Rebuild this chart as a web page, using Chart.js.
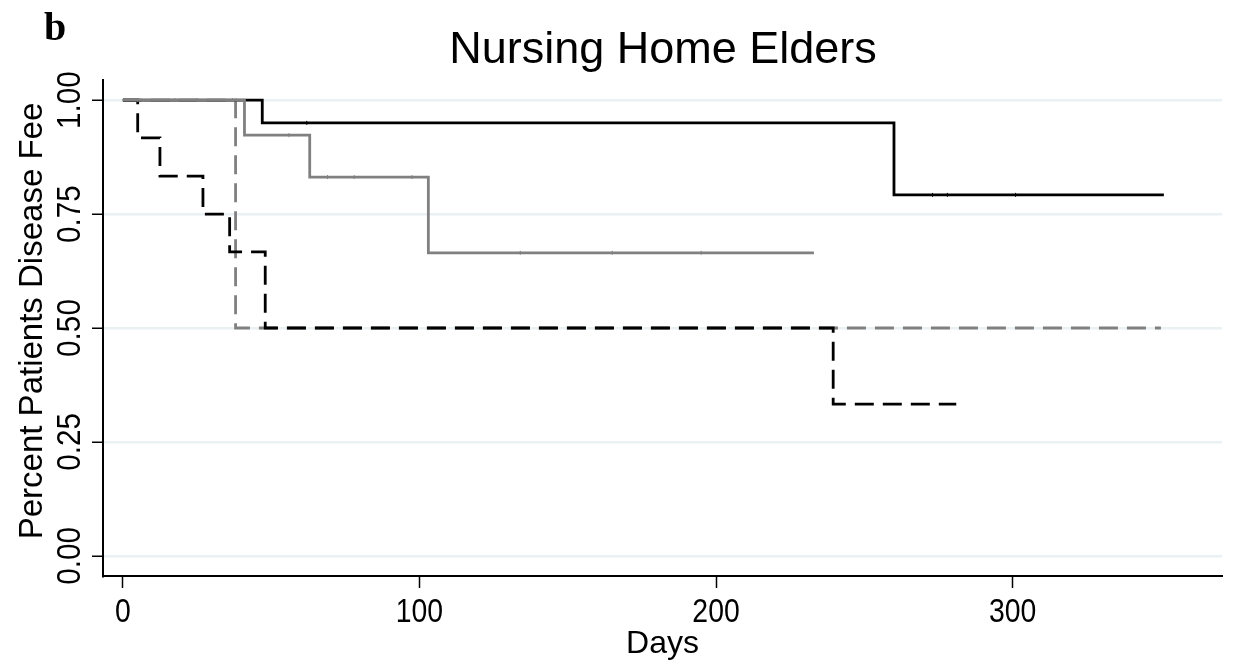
<!DOCTYPE html>
<html>
<head>
<meta charset="utf-8">
<script src="https://cdn.jsdelivr.net/npm/chart.js@4.4.1/dist/chart.umd.min.js"></script>
<style>
  html, body { margin: 0; padding: 0; background: #ffffff; }
  #wrap { width: 1238px; height: 666px; }
</style>
</head>
<body>
<div id="wrap"><canvas id="c" width="1238" height="666"></canvas></div>
<script>
// ---- data ----
const titleText = 'Nursing Home Elders';
const panelLabel = 'b';
const xTitle = 'Days';
const yTitle = 'Percent Patients Disease Fee';

const xTicks = [0, 100, 200, 300];
const xTickLabels = ['0', '100', '200', '300'];
const yTicks = [0, 0.25, 0.5, 0.75, 1.0];
const yTickLabels = ['0.00', '0.25', '0.50', '0.75', '1.00'];

// Kaplan-Meier step curves: event times (days) and survival after each time
const blackSolidT = [0, 47, 260, 351];
const blackSolidS = [1.00, 0.95, 0.792, 0.792];
const blackSolidCensor = [62, 273, 278, 301];

const graySolidT = [0, 41, 63, 103, 233];
const graySolidS = [1.00, 0.923, 0.831, 0.665, 0.665];
const graySolidCensor = [5, 17.5, 25, 37, 56, 69, 78, 97.5, 134, 165, 195];

const grayDashT = [0, 38, 350];
const grayDashS = [1.00, 0.50, 0.50];

const blackDashT = [0, 5, 12.5, 27, 36, 48, 239.5, 281];
const blackDashS = [1.00, 0.917, 0.833, 0.75, 0.667, 0.50, 0.333, 0.333];

// ---- helpers ----
function pts(T, S) { return T.map((t, i) => ({ x: t, y: S[i] })); }
function stepAt(T, S, t) { let v = S[0]; for (let i = 0; i < T.length; i++) { if (T[i] <= t) v = S[i]; } return v; }
function censorPts(T, S, C) { return C.map(t => ({ x: t, y: stepAt(T, S, t) })); }

const BLACK = '#000000';
const GRAY = '#808080';
const FONT = "'Liberation Sans', Arial, Helvetica, sans-serif";

const textPlugin = {
  id: 'texts',
  afterDraw(chart) {
    const ctx = chart.ctx;
    const xs = chart.scales.x, ys = chart.scales.y;
    ctx.save();
    ctx.fillStyle = '#000';
    // title
    ctx.font = '45px ' + FONT;
    ctx.textAlign = 'center';
    ctx.textBaseline = 'alphabetic';
    ctx.fillText(titleText, 663, 63);
    // panel label
    ctx.font = "bold 40px 'Liberation Serif', 'Times New Roman', serif";
    ctx.textAlign = 'left';
    ctx.fillText(panelLabel, 44, 40);
    // x tick labels
    ctx.font = '33px ' + FONT;
    ctx.textAlign = 'center';
    xTicks.forEach((v, i) => {
      const px = xs.getPixelForValue(v);
      ctx.save();
      ctx.translate(px, 622);
      ctx.scale(0.86, 1);
      ctx.fillText(xTickLabels[i], 0, 0);
      ctx.restore();
    });
    // y tick labels (rotated)
    yTicks.forEach((v, i) => {
      const py = ys.getPixelForValue(v);
      ctx.save();
      ctx.translate(80, py);
      ctx.rotate(-Math.PI / 2);
      ctx.scale(0.9, 1);
      ctx.fillText(yTickLabels[i], 0, 0);
      ctx.restore();
    });
    // axis titles
    ctx.font = '32px ' + FONT;
    ctx.fillText(xTitle, (chart.chartArea.left + chart.chartArea.right) / 2, 653);
    ctx.save();
    ctx.translate(42, 321);
    ctx.rotate(-Math.PI / 2);
    ctx.font = '33px ' + FONT;
    ctx.fillText(yTitle, 0, 0);
    ctx.restore();
    ctx.restore();
  }
};

const lineDefaults = { stepped: 'before', pointRadius: 0, fill: false, tension: 0 };

new Chart(document.getElementById('c'), {
  type: 'line',
  data: {
    datasets: [
      Object.assign({ label: 'gray censor', data: censorPts(graySolidT, graySolidS, graySolidCensor), showLine: false,
        pointStyle: 'line', rotation: 90, pointRadius: 2, pointBorderWidth: 1, pointBorderColor: GRAY, borderColor: GRAY }),
      Object.assign({ label: 'black censor', data: censorPts(blackSolidT, blackSolidS, blackSolidCensor), showLine: false,
        pointStyle: 'line', rotation: 90, pointRadius: 2, pointBorderWidth: 1, pointBorderColor: BLACK, borderColor: BLACK }),
      Object.assign({}, lineDefaults, { label: 'gray solid', data: pts(graySolidT, graySolidS), borderColor: GRAY, borderWidth: 2.8 }),
      Object.assign({}, lineDefaults, { label: 'black solid', data: pts(blackSolidT, blackSolidS), borderColor: BLACK, borderWidth: 2.8 }),
      Object.assign({}, lineDefaults, { label: 'black dashed', data: pts(blackDashT, blackDashS), borderColor: BLACK, borderWidth: 2.8, borderDash: [19, 9] }),
      Object.assign({}, lineDefaults, { label: 'gray dashed', data: pts(grayDashT, grayDashS), borderColor: GRAY, borderWidth: 2.8, borderDash: [19, 9] })
    ]
  },
  options: {
    responsive: false,
    animation: false,
    devicePixelRatio: 1,
    layout: { padding: { top: 80, right: 16, left: 0, bottom: 0 } },
    plugins: { legend: { display: false }, tooltip: { enabled: false }, title: { display: false } },
    scales: {
      x: {
        type: 'linear', min: -6.7, max: 370.6,
        afterBuildTicks: s => { s.ticks = xTicks.map(v => ({ value: v })); },
        afterFit: s => { s.height = 90; },
        ticks: { display: false },
        grid: { drawOnChartArea: false, drawTicks: true, tickLength: 12, tickColor: '#000', tickWidth: 1.5 },
        border: { display: true, color: '#000', width: 2 }
      },
      y: {
        type: 'linear', min: -0.044, max: 1.044,
        afterBuildTicks: s => { s.ticks = yTicks.map(v => ({ value: v })); },
        afterFit: s => { s.width = 103; },
        ticks: { display: false },
        grid: { color: '#e9f1f3', lineWidth: 2.5, drawTicks: true, tickLength: 11, tickColor: '#000', tickWidth: 1.5 },
        border: { display: true, color: '#000', width: 2 }
      }
    }
  },
  plugins: [textPlugin]
});
</script>
</body>
</html>
